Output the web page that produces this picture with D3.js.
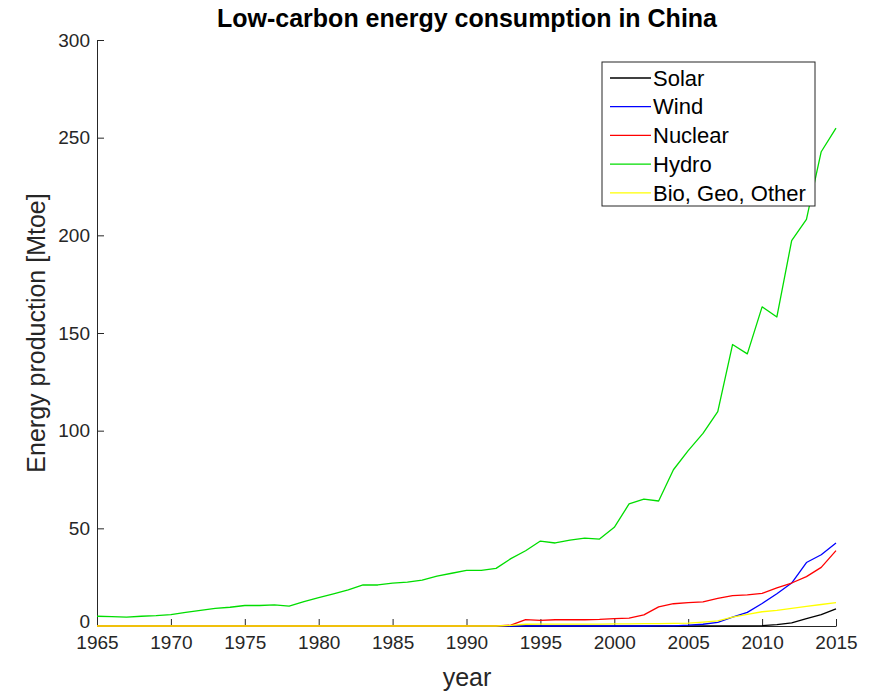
<!DOCTYPE html>
<html>
<head>
<meta charset="utf-8">
<script src="https://cdn.jsdelivr.net/npm/d3@7"></script>
<style>
  html, body { margin: 0; padding: 0; background: #fff; }
  svg { display: block; font-family: "Liberation Sans", Arial, Helvetica, sans-serif; }
</style>
</head>
<body>
<svg id="chart" width="871" height="699"></svg>
<script>
// Years 1965..2015
const years = d3.range(1965, 2016);

// Energy production [Mtoe] per source, one value per year
const solar = [
  0,0,0,0,0, 0,0,0,0,0, 0,0,0,0,0, 0,0,0,0,0,
  0,0,0,0,0, 0,0,0,0,0, 0,0,0,0,0, 0,0,0,0,0,
  0,0,0,0,0.1, 0.2,0.7,1.6,3.8,5.8, 8.8
];
const wind = [
  0,0,0,0,0, 0,0,0,0,0, 0,0,0,0,0, 0,0,0,0,0,
  0,0,0,0,0, 0,0,0,0,0, 0,0,0,0,0, 0,0,0,0.1,0.1,
  0.4,0.9,1.9,4.5,7.0, 11.5,16.5,22.0,32.5,36.5, 42.5
];
const nuclear = [
  0,0,0,0,0, 0,0,0,0,0, 0,0,0,0,0, 0,0,0,0,0,
  0,0,0,0,0, 0,0.1,0.1,0.4,3.3, 2.9,3.2,3.3,3.2,3.4, 3.8,4.0,5.7,9.8,11.4,
  12.0,12.4,14.1,15.5,15.9, 16.7,19.5,22.0,25.3,30.0, 38.6
];
const hydro = [
  5.0,4.8,4.5,5.0,5.3, 5.8,7.0,8.0,9.0,9.6, 10.5,10.5,10.8,10.2,12.5,
  14.5,16.5,18.5,21.0,21.0, 22.0,22.5,23.5,25.5,27.0, 28.5,28.5,29.5,34.5,38.5,
  43.5,42.5,44.0,45.0,44.5, 50.5,62.5,65.0,64.0,80.0,
  89.8,98.6,109.8,144.1,139.3, 163.4,158.2,197.3,208.2,242.8, 254.9
];
const other = [
  0,0,0,0,0, 0,0,0,0,0, 0,0,0,0,0, 0,0,0,0,0,
  0,0,0,0,0, 0,0,0,0.3,0.9, 1.0,1.0,1.0,1.0,1.0, 1.1,1.1,1.2,1.2,1.3,
  1.5,2.0,2.6,4.5,6.0, 7.3,8.0,9.0,10.0,11.0, 12.0
];

const seriesNames = ["Solar", "Wind", "Nuclear", "Hydro", "Bio, Geo, Other"];
const seriesValues = [solar, wind, nuclear, hydro, other];
const seriesColors = ["#000000", "#0000ff", "#ff0000", "#00dd00", "#ffff00"];

const xTicks = [1965, 1970, 1975, 1980, 1985, 1990, 1995, 2000, 2005, 2010, 2015];
const yTicks = [0, 50, 100, 150, 200, 250, 300];

const titleText = "Low-carbon energy consumption in China";
const xLabelText = "year";
const yLabelText = "Energy production [Mtoe]";

// Layout
const plot = { left: 97, right: 836, top: 40, bottom: 626 };
const axisColor = "#262626";

const svg = d3.select("#chart");

const x = d3.scaleLinear().domain([1965, 2015]).range([plot.left, plot.right]);
const y = d3.scaleLinear().domain([0, 300]).range([plot.bottom, plot.top]);

// Axes (left and bottom only, ticks pointing inward)
const xAxis = d3.axisBottom(x).tickValues(xTicks).tickFormat(d3.format("d"))
  .tickSizeInner(-7).tickSizeOuter(0).tickPadding(10);
const yAxis = d3.axisLeft(y).tickValues(yTicks).tickFormat(d3.format("d"))
  .tickSizeInner(-7).tickSizeOuter(0).tickPadding(7);

const gx = svg.append("g").attr("transform", `translate(0,${plot.bottom})`).call(xAxis);
const gy = svg.append("g").attr("transform", `translate(${plot.left},0)`).call(yAxis);

[gx, gy].forEach(g => {
  g.select(".domain").attr("stroke", axisColor).attr("stroke-width", 1);
  g.selectAll(".tick line").attr("stroke", axisColor).attr("stroke-width", 1);
  g.selectAll(".tick text")
    .attr("fill", axisColor)
    .style("font-size", "19px")
    .style("font-family", "'Liberation Sans', Arial, sans-serif");
});
// keep the y-axis "0" slightly above the year labels
gy.selectAll(".tick text").filter(d => d === 0).attr("dy", "0.1em");

// Data lines
const line = d3.line()
  .x((d, i) => x(years[i]))
  .y(d => y(d));

const gLines = svg.append("g");
seriesValues.forEach((vals, k) => {
  gLines.append("path")
    .datum(vals)
    .attr("d", line)
    .attr("fill", "none")
    .attr("stroke", seriesColors[k])
    .attr("stroke-width", 1.3)
    .attr("stroke-linejoin", "round");
});

// Title and axis labels
svg.append("text")
  .attr("x", 467)
  .attr("y", 27)
  .attr("text-anchor", "middle")
  .attr("fill", "#000")
  .style("font-size", "25px")
  .style("font-weight", "bold")
  .text(titleText);

svg.append("text")
  .attr("x", 467)
  .attr("y", 686)
  .attr("text-anchor", "middle")
  .attr("fill", axisColor)
  .style("font-size", "25px")
  .text(xLabelText);

svg.append("text")
  .attr("transform", `translate(45,${(plot.top + plot.bottom) / 2}) rotate(-90)`)
  .attr("text-anchor", "middle")
  .attr("fill", axisColor)
  .style("font-size", "25px")
  .text(yLabelText);

// Legend
const legend = { x: 602, y: 62, w: 213, h: 144, rowH: 28.7 };
const gLeg = svg.append("g");
gLeg.append("rect")
  .attr("x", legend.x).attr("y", legend.y)
  .attr("width", legend.w).attr("height", legend.h)
  .attr("fill", "#fff").attr("stroke", axisColor).attr("stroke-width", 1);

seriesNames.forEach((name, k) => {
  const cy = legend.y + 16 + k * legend.rowH;
  gLeg.append("line")
    .attr("x1", legend.x + 8).attr("x2", legend.x + 49)
    .attr("y1", cy).attr("y2", cy)
    .attr("stroke", seriesColors[k]).attr("stroke-width", 1.3);
  gLeg.append("text")
    .attr("x", legend.x + 51).attr("y", cy)
    .attr("dy", "0.35em")
    .attr("fill", "#000")
    .style("font-size", "22px")
    .text(name);
});
</script>
</body>
</html>
